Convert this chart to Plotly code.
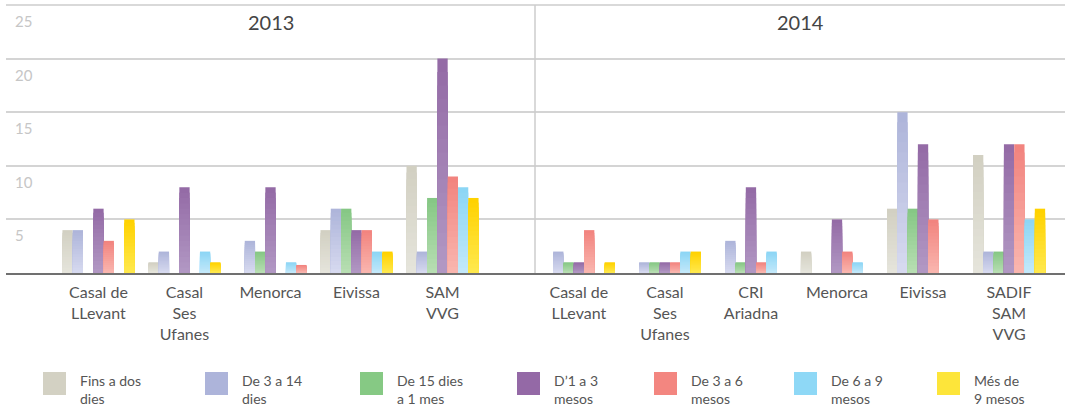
import plotly.graph_objects as go

# ---------------- data ----------------
series_names = ["Fins a dos dies", "De 3 a 14 dies", "De 15 dies a 1 mes",
                "D’1 a 3 mesos", "De 3 a 6 mesos", "De 6 a 9 mesos", "Més de 9 mesos"]
legend_labels = ["Fins a dos<br>dies", "De 3 a 14<br>dies", "De 15 dies<br>a 1 mes",
                 "D’1 a 3<br>mesos", "De 3 a 6<br>mesos", "De 6 a 9<br>mesos", "Més de<br>9 mesos"]

years = ["2013", "2014"]
cats_2013 = ["Casal de<br>LLevant", "Casal<br>Ses<br>Ufanes", "Menorca", "Eivissa", "SAM<br>VVG"]
cats_2014 = ["Casal de<br>LLevant", "Casal<br>Ses<br>Ufanes", "CRI<br>Ariadna", "Menorca",
             "Eivissa", "SADIF<br>SAM<br>VVG"]

fins_2013 = [4, 1, 0, 4, 10]
de3a14_2013 = [4, 2, 3, 6, 2]
de15_2013 = [0, 0, 2, 6, 7]
d1a3_2013 = [6, 8, 8, 4, 20]
de3a6_2013 = [3, 0, 0, 4, 9]
de6a9_2013 = [0, 2, 1, 2, 8]
mes9_2013 = [5, 1, 0.75, 2, 7]

fins_2014 = [0, 0, 0, 2, 6, 11]
de3a14_2014 = [2, 1, 3, 0, 15, 2]
de15_2014 = [1, 1, 1, 0, 6, 2]
d1a3_2014 = [1, 1, 8, 5, 12, 12]
de3a6_2014 = [4, 1, 1, 2, 5, 12]
de6a9_2014 = [0, 2, 2, 1, 0, 5]
mes9_2014 = [1, 2, 0, 0, 0, 6]

y_ticks = [5, 10, 15, 20, 25]
y_ticklabels = ["5", "10", "15", "20", "25"]

# ---------------- styles ----------------
top_colors = ["#d2d0c2", "#aeb5da", "#86c785", "#946ba6", "#f2847f", "#8cd6f5", "#ffd200"]
bottom_colors = ["#e5e4db", "#d6d9ef", "#b7deb2", "#b197c3", "#f9b5ae", "#c2e8fa", "#ffe84c"]
legend_colors = ["#d3d1c3", "#adb4da", "#86c984", "#9469a6", "#f38680", "#8ed8f6", "#fde53a"]
# one bar in the 2013 picture is drawn in another series' colour
color_override = {("2013", 6, 2): 4}

panel_values = {
    "2013": [fins_2013, de3a14_2013, de15_2013, d1a3_2013, de3a6_2013, de6a9_2013, mes9_2013],
    "2014": [fins_2014, de3a14_2014, de15_2014, d1a3_2014, de3a6_2014, de6a9_2014, mes9_2014],
}
panel_cats = {"2013": cats_2013, "2014": cats_2014}
panel_axes = {"2013": ("x", "y"), "2014": ("x2", "y2")}


def hex2rgb(h):
    h = h.lstrip("#")
    return tuple(int(h[i:i + 2], 16) for i in (0, 2, 4))


def mix(c1, c2, t):
    a, b = hex2rgb(c1), hex2rgb(c2)
    return "rgb(%d,%d,%d)" % tuple(round(a[i] + (b[i] - a[i]) * t) for i in range(3))


# vertical gradient: overlapping bars, tallest (top colour) first, shorter/lighter on top
N_SEG = 16
fig = go.Figure()
for yr in years:
    xa, ya = panel_axes[yr]
    cats = panel_cats[yr]
    xs = list(range(len(cats)))
    for si, vals in enumerate(panel_values[yr]):
        for k in range(N_SEG):
            frac = (N_SEG - k) / N_SEG
            t = 1 - k / (N_SEG - 1)
            cols = []
            for ci in range(len(cats)):
                src = color_override.get((yr, si, ci), si)
                cols.append(mix(bottom_colors[src], top_colors[src], t))
            fig.add_trace(go.Bar(
                x=xs,
                y=[v * frac for v in vals],
                marker=dict(color=cols, line=dict(width=0)),
                offsetgroup=str(si),
                xaxis=xa, yaxis=ya,
                showlegend=False, hoverinfo="skip",
            ))

W, H = 1069, 406
ML, MR, MT, MB = 6, 4, 5, 133
PW, PH = W - ML - MR, H - MT - MB
split = 529 / PW


def px_x(px):
    return (px - ML) / PW


def px_y(py):
    return (H - MB - py) / PH


font_fam = "Lato, 'Open Sans', sans-serif"
grid_c = "#d4d4d4"

fig.update_layout(
    width=W, height=H,
    margin=dict(l=ML, r=MR, t=MT, b=MB, autoexpand=False),
    paper_bgcolor="white", plot_bgcolor="white",
    barmode="group", bargap=0.162, bargroupgap=0,
    font=dict(family=font_fam),
    xaxis=dict(domain=[0, split], range=[-1.075, 5.075], automargin=False,
               tickvals=list(range(len(cats_2013))), ticktext=cats_2013,
               ticks="", showgrid=False, zeroline=False,
               showline=True, linecolor="#707070", linewidth=2,
               tickfont=dict(size=16, color="#555555", family=font_fam),
               ticklabelstandoff=4, anchor="y"),
    xaxis2=dict(domain=[split, 1], range=[-0.51, 5.65], automargin=False,
                tickvals=list(range(len(cats_2014))), ticktext=cats_2014,
                ticks="", showgrid=False, zeroline=False,
                showline=True, linecolor="#707070", linewidth=2,
                tickfont=dict(size=16, color="#555555", family=font_fam),
                ticklabelstandoff=4, anchor="y2"),
    yaxis=dict(range=[0, 25], tickvals=y_ticks, showticklabels=False, automargin=False,
               showgrid=True, gridcolor=grid_c, gridwidth=1.5, zeroline=False,
               ticks="", anchor="x"),
    yaxis2=dict(range=[0, 25], tickvals=y_ticks, showticklabels=False, automargin=False,
                showgrid=True, gridcolor=grid_c, gridwidth=1.5, zeroline=False,
                ticks="", anchor="x2", matches="y"),
)

shapes = [
    dict(type="line", xref="paper", yref="paper", x0=0, x1=1, y0=1, y1=1,
         line=dict(color="#cccccc", width=1.5)),
    dict(type="line", xref="paper", yref="paper", x0=split, x1=split, y0=0, y1=1,
         line=dict(color="#cccccc", width=1.5)),
]
annotations = []
# y tick labels sit just below their grid line
for tv, tl in zip(y_ticks, y_ticklabels):
    annotations.append(dict(text=tl, xref="paper", yref="y", x=px_x(13), y=tv,
                            xanchor="left", yanchor="top", yshift=-5, showarrow=False,
                            font=dict(size=15, color="#c6c6c6", family=font_fam)))
for yr, xr in (("2013", "x domain"), ("2014", "x2 domain")):
    annotations.append(dict(text=yr, xref=xr, yref="paper", x=0.5, y=px_y(22),
                            xanchor="center", yanchor="middle", showarrow=False,
                            font=dict(size=20, color="#454545", family=font_fam)))

legend_px = [43, 205, 360, 517, 654, 794, 937]
for i, lab in enumerate(legend_labels):
    x0 = legend_px[i]
    shapes.append(dict(type="rect", xref="paper", yref="paper",
                       x0=px_x(x0), x1=px_x(x0 + 23), y0=px_y(372), y1=px_y(395),
                       fillcolor=legend_colors[i], line=dict(width=0)))
    annotations.append(dict(text=lab, xref="paper", yref="paper",
                            x=px_x(x0 + 35), y=px_y(389), xanchor="left", yanchor="middle",
                            align="left", showarrow=False,
                            font=dict(size=14, color="#555555", family=font_fam)))

fig.update_layout(shapes=shapes, annotations=annotations)
fig.write_html("out.html", config={"displayModeBar": False},
               post_script="document.body.style.margin='0';document.body.style.overflow='hidden';")
